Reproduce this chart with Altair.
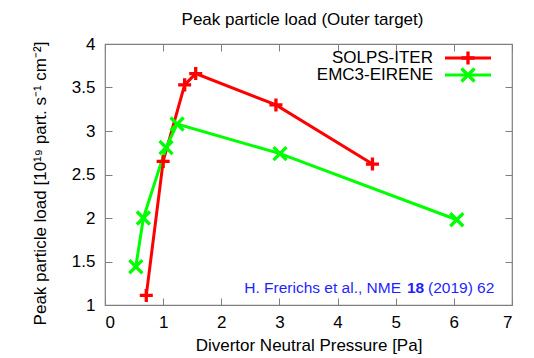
import altair as alt
import pandas as pd

# ---- data ----
series_names = ["SOLPS-ITER", "EMC3-EIRENE"]
solps_x = [0.71, 1.00, 1.37, 1.56, 2.94, 4.60]
solps_y = [1.11, 2.65, 3.53, 3.66, 3.30, 2.62]
emc3_x = [0.53, 0.66, 1.05, 1.24, 3.01, 6.05]
emc3_y = [1.44, 2.00, 2.81, 3.08, 2.74, 1.98]
x_ticks = [0, 1, 2, 3, 4, 5, 6, 7]
y_ticks = [1, 1.5, 2, 2.5, 3, 3.5, 4]
title_text = ["Peak particle load (Outer target)"]
note_parts = ["H. Frerichs et al., NME", "18", "(2019) 62"]

rows = []
for i, (x, y) in enumerate(zip(solps_x, solps_y)):
    rows.append({"series": series_names[0], "p": x, "load": y, "ord": i})
for i, (x, y) in enumerate(zip(emc3_x, emc3_y)):
    rows.append({"series": series_names[1], "p": x, "load": y, "ord": i})
df = pd.DataFrame(rows)

RED = "#ff0000"
GREEN = "#00ff00"
BLUE = "#1f1fff"
FRAME = "#7f7f7f"
FONT = "Liberation Sans"
PLUS = "M-1,0H1M0,-1V1"
CROSS = "M-1,-1L1,1M-1,1L1,-1"

xscale = alt.Scale(domain=[0, 7], nice=False, zero=False)
yscale = alt.Scale(domain=[1, 4], nice=False, zero=False)
cscale = alt.Scale(domain=series_names, range=[RED, GREEN])
sscale = alt.Scale(domain=series_names, range=[PLUS, CROSS])

TICK = 7
L, T = 105, 44  # plot origin in page pixels

lines = alt.Chart(df).mark_line(strokeWidth=3).encode(
    x=alt.X("p:Q", scale=xscale,
            axis=alt.Axis(orient="bottom", values=x_ticks, offset=-TICK, tickSize=TICK,
                          tickColor=FRAME, domain=False, grid=False, labelPadding=9,
                          labelFontSize=17, labelFont=FONT, labelColor="black",
                          format="~g",
                          title="Divertor Neutral Pressure [Pa]", titleFontSize=17,
                          titleFont=FONT, titleFontWeight="normal", titleColor="black",
                          titleX=203.5, titleY=47, titleBaseline="middle")),
    y=alt.Y("load:Q", scale=yscale,
            axis=alt.Axis(orient="left", values=y_ticks, offset=-TICK, tickSize=TICK,
                          tickColor=FRAME, domain=False, grid=False, labelPadding=10,
                          labelFontSize=17, labelFont=FONT, labelColor="black",
                          format="~g",
                          title="Peak particle load [10¹⁹ part. s⁻¹ cm⁻²]",
                          titleFontSize=17, titleFont=FONT, titleFontWeight="normal",
                          titleColor="black", titleX=-72, titleY=139,
                          titleBaseline="middle", titleAngle=270)),
    color=alt.Color("series:N", scale=cscale, legend=None),
    detail="series:N",
    order="ord:Q",
)

points = alt.Chart(df).mark_point(filled=False, strokeWidth=3.3, opacity=1).encode(
    x=alt.X("p:Q", scale=xscale,
            axis=alt.Axis(orient="top", values=x_ticks, offset=-TICK, tickSize=TICK,
                          tickColor=FRAME, domain=False, grid=False, labels=False,
                          title=None)),
    y=alt.Y("load:Q", scale=yscale,
            axis=alt.Axis(orient="right", values=y_ticks, offset=-TICK, tickSize=TICK,
                          tickColor=FRAME, domain=False, grid=False, labels=False,
                          title=None)),
    color=alt.Color("series:N", scale=cscale, legend=None),
    shape=alt.Shape("series:N", scale=sscale, legend=None),
    size=alt.value(170),
)

leg = pd.DataFrame({"series": series_names})
leg_y = [58, 75]
leg_layers = []
for name, yy, col, shp in zip(series_names, leg_y, [RED, GREEN], [PLUS, CROSS]):
    d = leg[leg.series == name]
    leg_layers.append(alt.Chart(d).mark_text(align="right", baseline="middle",
                                             fontSize=17, font=FONT, color="black").encode(
        x=alt.value(433 - L), y=alt.value(yy - T), text="series:N"))
    leg_layers.append(alt.Chart(d).mark_rule(strokeWidth=3, color=col).encode(
        x=alt.value(445 - L), x2=alt.value(491 - L), y=alt.value(yy - T)))
    leg_layers.append(alt.Chart(d).mark_point(filled=False, strokeWidth=3.3, color=col,
                                              opacity=1, shape=shp, size=170).encode(
        x=alt.value(468 - L), y=alt.value(yy - T)))

note_df = pd.DataFrame({"t": note_parts})
ny = 288 - T
note_specs = [(401, "right", "normal"), (407, "left", "bold"), (428, "left", "normal")]
note_layers = []
for i, (xx, al, wt) in enumerate(note_specs):
    note_layers.append(alt.Chart(note_df.iloc[[i]]).mark_text(
        align=al, baseline="middle", fontSize=15.5, font=FONT, fontWeight=wt,
        color=BLUE).encode(x=alt.value(xx - L), y=alt.value(ny), text="t:N"))

title_df = pd.DataFrame({"t": title_text})
title = alt.Chart(title_df).mark_text(align="center", baseline="alphabetic", fontSize=17,
                                      font=FONT, color="black").encode(
    x=alt.value(302.5 - L), y=alt.value(25 - T), text="t:N")

chart = alt.layer(lines, points, *leg_layers, *note_layers, title).resolve_axis(
    x="independent", y="independent"
).properties(
    width=407, height=261,
    autosize=alt.AutoSizeParams(type="none"),
    padding={"left": L, "top": T, "right": 22, "bottom": 53},
    background="white",
).configure_view(stroke=FRAME, strokeWidth=1.2)

chart.save("out.html", embed_options={"renderer": "svg", "actions": False})
